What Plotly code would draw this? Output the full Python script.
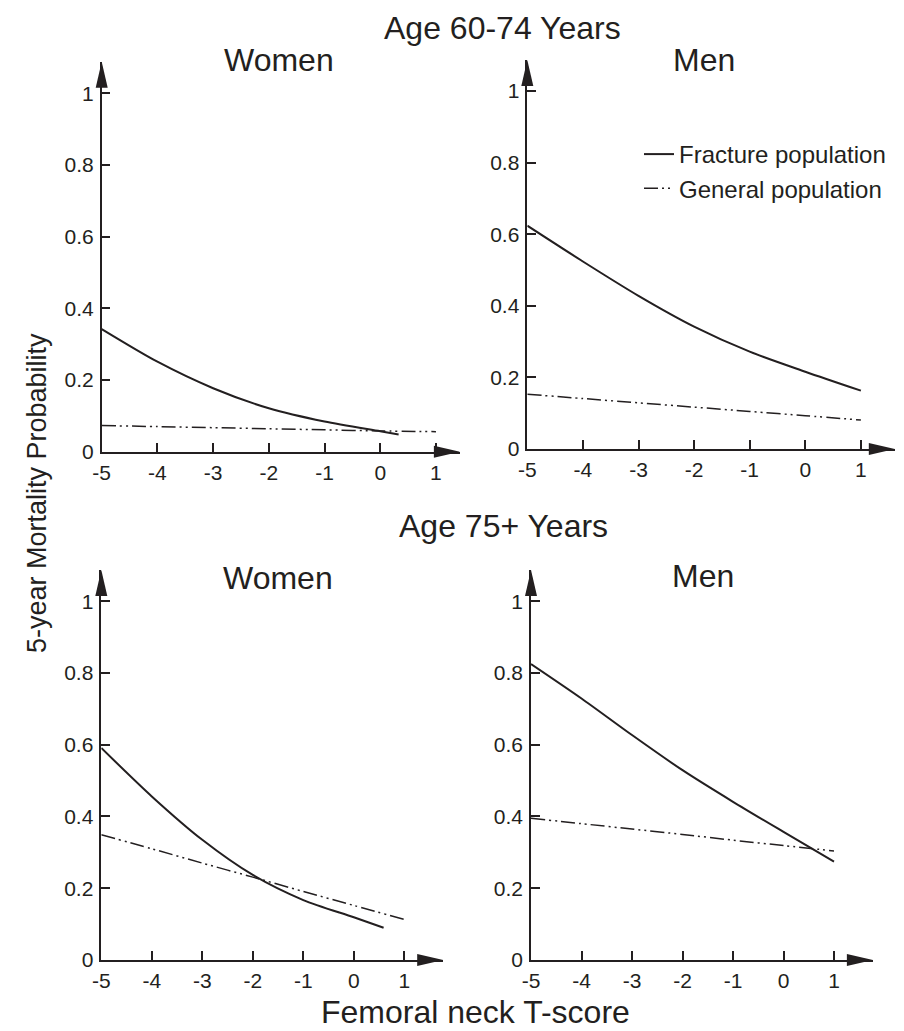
import plotly.graph_objects as go

# ---------------- data ----------------
x_ticks = [-5, -4, -3, -2, -1, 0, 1]
x_ticktext = ["-5", "-4", "-3", "-2", "-1", "0", "1"]
y_ticks = [0, 0.2, 0.4, 0.6, 0.8, 1]
y_ticktext = ["0", "0.2", "0.4", "0.6", "0.8", "1"]

# Age 60-74, Women
w6074_frac_x = [-5, -4, -3, -2, -1, 0, 0.33]
w6074_frac_y = [0.342, 0.251, 0.177, 0.121, 0.084, 0.057, 0.048]
w6074_gen_x = [-5, -4, -3, -2, -1, 0, 1]
w6074_gen_y = [0.073, 0.070, 0.067, 0.064, 0.061, 0.058, 0.056]

# Age 60-74, Men
m6074_frac_x = [-5, -4, -3, -2, -1, 0, 1]
m6074_frac_y = [0.624, 0.524, 0.428, 0.342, 0.272, 0.216, 0.163]
m6074_gen_x = [-5, -4, -3, -2, -1, 0, 1]
m6074_gen_y = [0.153, 0.141, 0.129, 0.117, 0.105, 0.093, 0.081]

# Age 75+, Women
w75_frac_x = [-5, -4, -3, -2, -1, 0, 0.59]
w75_frac_y = [0.591, 0.456, 0.335, 0.237, 0.167, 0.119, 0.090]
w75_gen_x = [-5, -4, -3, -2, -1, 0, 1]
w75_gen_y = [0.349, 0.310, 0.270, 0.231, 0.191, 0.152, 0.113]

# Age 75+, Men
m75_frac_x = [-5, -4, -3, -2, -1, 0, 1]
m75_frac_y = [0.825, 0.729, 0.627, 0.529, 0.441, 0.357, 0.274]
m75_gen_x = [-5, -4, -3, -2, -1, 0, 1]
m75_gen_y = [0.395, 0.380, 0.365, 0.350, 0.334, 0.319, 0.304]

series_names = ["Fracture population", "General population"]
group_titles = ["Age 60-74 Years", "Age 75+ Years"]
panel_titles = ["Women", "Men", "Women", "Men"]
x_title = "Femoral neck T-score"
y_title = "5-year Mortality Probability"

# ---------------- layout helpers ----------------
W, H = 904, 1031
OFF = 8  # page body margin: the figure is drawn 8px from the window's corner
INK = "#231f20"
FONT = "Liberation Sans, Arial, Helvetica, sans-serif"


def px(x):
    return (x - OFF) / W


def py(y):
    return 1 - (y - OFF) / H


# panel pixel boxes (window pixels): (left, right, top, bottom), x-range max, y-range max
panels = [
    dict(box=(101.7, 459.9, 61.7, 451.7), xmax=1.43, ymax=1.088,
         data=(w6074_frac_x, w6074_frac_y, w6074_gen_x, w6074_gen_y), tx=279, ty=60),
    dict(box=(527.3, 894.8, 60.0, 449.0), xmax=1.61, ymax=1.087,
         data=(m6074_frac_x, m6074_frac_y, m6074_gen_x, m6074_gen_y), tx=704, ty=60),
    dict(box=(101.3, 443.2, 570.0, 960.0), xmax=1.77, ymax=1.087,
         data=(w75_frac_x, w75_frac_y, w75_gen_x, w75_gen_y), tx=278, ty=578),
    dict(box=(531.0, 872.9, 570.0, 960.0), xmax=1.77, ymax=1.087,
         data=(m75_frac_x, m75_frac_y, m75_gen_x, m75_gen_y), tx=703, ty=576),
]

fig = go.Figure()
shapes = []
annotations = []

for i, p in enumerate(panels):
    n = "" if i == 0 else str(i + 1)
    xa, ya = "x" + n, "y" + n
    fx, fy, gx, gy = p["data"]
    fig.add_trace(go.Scatter(
        x=fx, y=fy, mode="lines", name=series_names[0], legendgroup="f",
        showlegend=(i == 0), xaxis=xa, yaxis=ya,
        line=dict(color=INK, width=2, shape="spline", smoothing=0.8)))
    fig.add_trace(go.Scatter(
        x=gx, y=gy, mode="lines", name=series_names[1], legendgroup="g",
        showlegend=(i == 0), xaxis=xa, yaxis=ya,
        line=dict(color=INK, width=1.5, shape="spline", smoothing=0.8,
                  dash="14px,4px,2px,4px,2px,4px")))

    l, r, t, b = p["box"]
    axis_common = dict(showline=True, linecolor=INK, linewidth=1.5,
                       ticks="inside", ticklen=9, tickwidth=1.5, tickcolor=INK,
                       showgrid=False, zeroline=False, fixedrange=True,
                       automargin=False,
                       tickfont=dict(family=FONT, size=21, color=INK))
    fig.layout["xaxis" + n] = dict(
        axis_common, domain=[px(l), px(r)], range=[-5, p["xmax"]],
        tickvals=x_ticks, ticktext=x_ticktext, anchor=ya, ticklabelstandoff=1)
    fig.layout["yaxis" + n] = dict(
        axis_common, domain=[py(b), py(t)], range=[0, p["ymax"]],
        tickvals=y_ticks, ticktext=y_ticktext, anchor=xa, ticklabelstandoff=2)

    # arrow heads at the ends of both axes (paper-referenced so they are not clipped)
    shapes.append(dict(type="path", xref="paper", yref="paper",
                       xsizemode="pixel", ysizemode="pixel",
                       xanchor=px(r), yanchor=py(b),
                       path="M0,0 L-26,6 L-26,-6 Z", fillcolor=INK, line=dict(width=0)))
    shapes.append(dict(type="path", xref="paper", yref="paper",
                       xsizemode="pixel", ysizemode="pixel",
                       xanchor=px(l), yanchor=py(t),
                       path="M0,0 L-6,-26 L6,-26 Z", fillcolor=INK, line=dict(width=0)))

    annotations.append(dict(text=panel_titles[i], x=px(p["tx"]), y=py(p["ty"]),
                            xref="paper", yref="paper", showarrow=False,
                            xanchor="center", yanchor="middle",
                            font=dict(family=FONT, size=32, color=INK)))

annotations += [
    dict(text=group_titles[0], x=px(502), y=py(28), xref="paper", yref="paper",
         showarrow=False, xanchor="center", yanchor="middle",
         font=dict(family=FONT, size=32, color=INK)),
    dict(text=group_titles[1], x=px(503), y=py(526), xref="paper", yref="paper",
         showarrow=False, xanchor="center", yanchor="middle",
         font=dict(family=FONT, size=32, color=INK)),
    dict(text=x_title, x=px(475), y=py(1012), xref="paper", yref="paper",
         showarrow=False, xanchor="center", yanchor="middle",
         font=dict(family=FONT, size=32, color=INK)),
    dict(text=y_title, x=px(37), y=py(493), xref="paper", yref="paper",
         showarrow=False, textangle=-90, xanchor="center", yanchor="middle",
         font=dict(family=FONT, size=27, color=INK)),
]

fig.update_layout(
    width=W, height=H, margin=dict(l=0, r=0, t=0, b=0, autoexpand=False),
    paper_bgcolor="white", plot_bgcolor="white",
    shapes=shapes, annotations=annotations,
    legend=dict(x=px(639), y=py(132), xanchor="left", yanchor="top",
                bgcolor="rgba(0,0,0,0)", font=dict(family=FONT, size=24, color=INK),
                tracegroupgap=0),
    font=dict(family=FONT, color=INK),
)

fig.write_html("out.html")
